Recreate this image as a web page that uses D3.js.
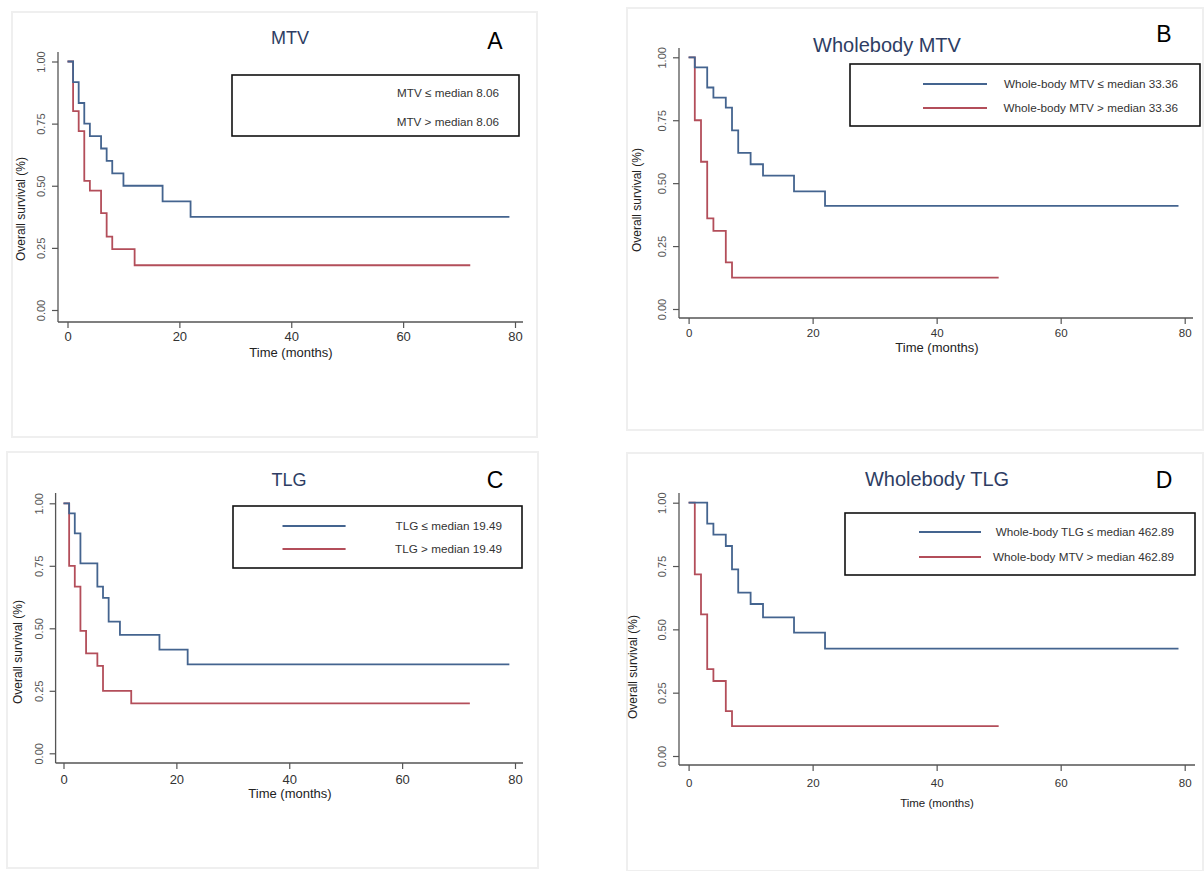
<!DOCTYPE html>
<html><head><meta charset="utf-8">
<script src="https://cdn.jsdelivr.net/npm/d3@7"></script>
<style>
html,body{margin:0;padding:0;background:#fff;}
svg{display:block;font-family:"Liberation Sans",Arial,sans-serif;}
</style></head>
<body>
<svg id="chart" width="1204" height="871"></svg>
<script>
// ---- data ----
const timeTicks = [0, 20, 40, 60, 80];
const survTicks = [0, 0.25, 0.5, 0.75, 1];
const panelTitles = ["MTV", "Wholebody MTV", "TLG", "Wholebody TLG"];
const panelLetters = ["A", "B", "C", "D"];
const lowLabels = ["MTV \u2264 median 8.06", "Whole-body MTV \u2264 median 33.36", "TLG \u2264 median 19.49", "Whole-body TLG \u2264 median 462.89"];
const highLabels = ["MTV > median 8.06", "Whole-body MTV > median 33.36", "TLG > median 19.49", "Whole-body MTV > median 462.89"];

const aLowTime  = [0, 1, 2, 3, 4, 6, 7, 8, 10, 17, 22, 79];
const aLowSurv  = [1, 0.917, 0.833, 0.75, 0.70, 0.65, 0.60, 0.55, 0.50, 0.4375, 0.375, 0.375];
const aHighTime = [0, 1, 2, 3, 4, 6, 7, 8, 12, 72];
const aHighSurv = [1, 0.80, 0.72, 0.52, 0.48, 0.39, 0.295, 0.245, 0.18, 0.18];

const bLowTime  = [0, 1, 3, 4, 6, 7, 8, 10, 12, 17, 22, 79];
const bLowSurv  = [1, 0.96, 0.88, 0.84, 0.80, 0.71, 0.62, 0.575, 0.53, 0.467, 0.41, 0.41];
const bHighTime = [0, 1, 2, 3, 4, 6, 7, 50];
const bHighSurv = [1, 0.75, 0.585, 0.36, 0.31, 0.185, 0.125, 0.125];

const cLowTime  = [0, 1, 2, 3, 6, 7, 8, 10, 17, 22, 79];
const cLowSurv  = [1, 0.96, 0.88, 0.76, 0.667, 0.622, 0.527, 0.474, 0.415, 0.356, 0.356];
const cHighTime = [0, 1, 2, 3, 4, 6, 7, 12, 72];
const cHighSurv = [1, 0.75, 0.667, 0.49, 0.40, 0.35, 0.25, 0.20, 0.20];

const dLowTime  = [0, 3, 4, 6, 7, 8, 10, 12, 17, 22, 79];
const dLowSurv  = [1, 0.917, 0.874, 0.829, 0.737, 0.645, 0.60, 0.547, 0.487, 0.424, 0.424];
const dHighTime = [0, 1, 2, 3, 4, 6, 7, 50];
const dHighSurv = [1, 0.717, 0.559, 0.343, 0.296, 0.177, 0.118, 0.118];

const lowTimes = [aLowTime, bLowTime, cLowTime, dLowTime];
const lowSurvs = [aLowSurv, bLowSurv, cLowSurv, dLowSurv];
const highTimes = [aHighTime, bHighTime, cHighTime, dHighTime];
const highSurvs = [aHighSurv, bHighSurv, cHighSurv, dHighSurv];

// ---- layout (pixels) ----
const layouts = [
  {frame:[12,12,537,437], x:[67.5,515], y:[310,61.5], axX:58, axYtop:52, axY:322, axXend:523,
   title:[290,44,18], letter:[495,49,23], tickLab:341, tickFont:13, xlab:[291,357,13], ylab:[21,209],
   leg:[232,75,519,136], legLine:null, legText:499, legY:[93,122], legFont:11.7},
  {frame:[627,8,1203,430], x:[688.6,1184.7], y:[309,57.3], axX:679, axYtop:48, axY:318, axXend:1193,
   title:[887,52,20], letter:[1164,42,23], tickLab:337, tickFont:11.5, xlab:[937,352,13], ylab:[637,200],
   leg:[850,64,1200,126], legLine:[923,987], legText:1178, legY:[84,108], legFont:11.7},
  {frame:[7,452,538,868], x:[63.5,515], y:[753.3,503.3], axX:55.6, axYtop:493, axY:763, axXend:523,
   title:[289,486,18], letter:[495,488,23], tickLab:784, tickFont:13, xlab:[290,798,13], ylab:[18,652],
   leg:[233,506,522,568], legLine:[282.5,345.6], legText:502, legY:[526,549], legFont:11.7},
  {frame:[627,453,1203,871], x:[688.6,1184.7], y:[756,502.7], axX:679, axYtop:493, axY:765, axXend:1195,
   title:[937,486,20], letter:[1164,488,23], tickLab:787, tickFont:11.5, xlab:[937,807,11.5], ylab:[633,667],
   leg:[845,513,1195,575], legLine:[919,981], legText:1174, legY:[532,557], legFont:11.7}
];

const blue = "#44648f";
const red = "#b34e5a";
const svg = d3.select("#chart");

layouts.forEach((L, i) => {
  const g = svg.append("g");
  // frame
  g.append("rect").attr("x", L.frame[0]).attr("y", L.frame[1])
    .attr("width", L.frame[2]-L.frame[0]).attr("height", L.frame[3]-L.frame[1])
    .attr("fill", "none").attr("stroke", "#efefef").attr("stroke-width", 2);

  const x = d3.scaleLinear().domain([0, 80]).range(L.x);
  const y = d3.scaleLinear().domain([0, 1]).range(L.y);

  // axes lines
  g.append("line").attr("x1", L.axX).attr("x2", L.axX).attr("y1", L.axYtop).attr("y2", L.axY)
    .attr("stroke", "#555").attr("stroke-width", 1.3);
  g.append("line").attr("x1", L.axX).attr("x2", L.axXend).attr("y1", L.axY).attr("y2", L.axY)
    .attr("stroke", "#555").attr("stroke-width", 1.3);

  // x axis ticks
  const xa = g.append("g").attr("transform", `translate(0,${L.axY})`)
    .call(d3.axisBottom(x).tickValues(timeTicks).tickSize(6).tickPadding(0).tickFormat(d3.format("d")));
  xa.select(".domain").remove();
  xa.selectAll("line").attr("stroke", "#555").attr("stroke-width", 1.2);
  xa.selectAll("text").attr("y", L.tickLab - L.axY).attr("dy", null)
    .attr("font-size", L.tickFont).attr("fill", "#333").attr("font-family", "Liberation Sans, Arial, sans-serif");

  // y axis ticks
  const ya = g.append("g").attr("transform", `translate(${L.axX},0)`)
    .call(d3.axisLeft(y).tickValues(survTicks).tickSize(6).tickFormat(d3.format(".2f")));
  ya.select(".domain").remove();
  ya.selectAll("line").attr("stroke", "#555").attr("stroke-width", 1.2);
  ya.selectAll("text").attr("x", null).attr("dy", null)
    .attr("transform", "translate(-13,0) rotate(-90)")
    .attr("text-anchor", "middle").attr("font-size", 11).attr("fill", "#555")
    .attr("font-family", "Liberation Sans, Arial, sans-serif");

  // axis titles
  g.append("text").attr("x", L.xlab[0]).attr("y", L.xlab[1]).attr("text-anchor", "middle")
    .attr("font-size", L.xlab[2]).attr("fill", "#222").text("Time (months)");
  g.append("text").attr("transform", `translate(${L.ylab[0]},${L.ylab[1]}) rotate(-90)`)
    .attr("text-anchor", "middle").attr("dy", "0.35em")
    .attr("font-size", 12).attr("fill", "#222").text("Overall survival (%)");

  // title + letter
  g.append("text").attr("x", L.title[0]).attr("y", L.title[1]).attr("text-anchor", "middle")
    .attr("font-size", L.title[2]).attr("fill", "#2e3d63").text(panelTitles[i]);
  g.append("text").attr("x", L.letter[0]).attr("y", L.letter[1]).attr("text-anchor", "middle")
    .attr("font-size", L.letter[2]).attr("fill", "#000").text(panelLetters[i]);

  // curves
  const line = d3.line().x(d => x(d[0])).y(d => y(d[1])).curve(d3.curveStepAfter);
  const series = [
    {t: highTimes[i], s: highSurvs[i], c: red},
    {t: lowTimes[i], s: lowSurvs[i], c: blue}
  ];
  series.forEach(sr => {
    g.append("path").datum(d3.zip(sr.t, sr.s)).attr("d", line)
      .attr("fill", "none").attr("stroke", sr.c).attr("stroke-width", 1.8);
  });

  // legend
  g.append("rect").attr("x", L.leg[0]).attr("y", L.leg[1])
    .attr("width", L.leg[2]-L.leg[0]).attr("height", L.leg[3]-L.leg[1])
    .attr("fill", "#fff").attr("stroke", "#111").attr("stroke-width", 1.6);
  const legColors = [blue, red];
  const legTexts = [lowLabels[i], highLabels[i]];
  [0, 1].forEach(k => {
    if (L.legLine) {
      g.append("line").attr("x1", L.legLine[0]).attr("x2", L.legLine[1])
        .attr("y1", L.legY[k]).attr("y2", L.legY[k])
        .attr("stroke", legColors[k]).attr("stroke-width", 1.8);
    }
    g.append("text").attr("x", L.legText).attr("y", L.legY[k]).attr("dy", "0.35em")
      .attr("text-anchor", "end").attr("font-size", L.legFont).attr("fill", "#333")
      .text(legTexts[k]);
  });
});
</script>
</body></html>
